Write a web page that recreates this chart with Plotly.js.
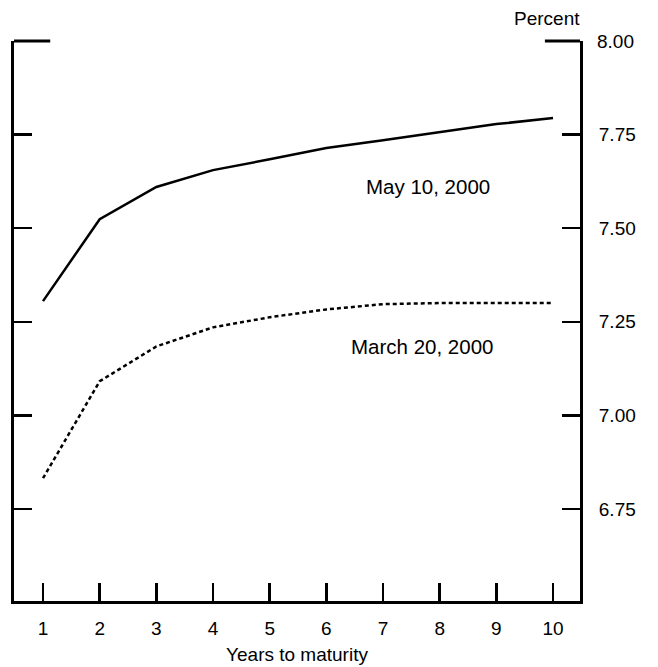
<!DOCTYPE html>
<html>
<head>
<meta charset="utf-8">
<script src="https://cdn.plot.ly/plotly-3.0.1.min.js"></script>
<style>html,body{margin:0;padding:0;background:#fff;}#chart{width:658px;height:667px;}</style>
</head>
<body>
<div id="chart"></div>
<script>
const years = [1, 2, 3, 4, 5, 6, 7, 8, 9, 10];
const may10 = [7.305, 7.524, 7.610, 7.655, 7.684, 7.714, 7.735, 7.757, 7.778, 7.794];
const mar20 = [6.832, 7.091, 7.184, 7.235, 7.262, 7.283, 7.297, 7.300, 7.300, 7.300];
const yTicks = [6.75, 7.00, 7.25, 7.50, 7.75, 8.00];
const yTickText = ["6.75", "7.00", "7.25", "7.50", "7.75", "8.00"];
const seriesNames = ["May 10, 2000", "March 20, 2000"];

const FONT = "Liberation Sans, Arial, Helvetica, sans-serif";
const yRange = [6.504, 8.0];

const traces = [
  {x: years, y: may10, mode: "lines", name: seriesNames[0],
   line: {color: "#000", width: 2.5}, hoverinfo: "skip"},
  {x: years, y: mar20, mode: "lines", name: seriesNames[1],
   line: {color: "#000", width: 2.5, dash: "4px,3px"}, hoverinfo: "skip"},
  {x: [years[0]], y: [yRange[0]], yaxis: "y2", mode: "markers",
   marker: {opacity: 0}, showlegend: false, hoverinfo: "skip"}
];

const layout = {
  width: 658, height: 667,
  margin: {l: 14, r: 78, t: 41, b: 66},
  paper_bgcolor: "#fff", plot_bgcolor: "#fff",
  showlegend: false,
  font: {family: FONT, size: 19, color: "#000"},
  xaxis: {
    range: [0.488, 10.476], tickvals: years, ticktext: years.map(String),
    ticks: "inside", ticklen: 18, tickwidth: 2.5, tickcolor: "#000",
    showline: true, linewidth: 3, linecolor: "#000", showgrid: false, zeroline: false,
    ticklabelstandoff: 8,
    tickfont: {family: FONT, size: 19},
    title: {text: "Years to maturity", font: {family: FONT, size: 19}, standoff: 10}
  },
  yaxis: {
    range: yRange, tickvals: yTicks.slice(0, 5), showticklabels: false,
    ticks: "inside", ticklen: 18, tickwidth: 2.5, tickcolor: "#000",
    showline: true, linewidth: 3, linecolor: "#000", showgrid: false, zeroline: false
  },
  yaxis2: {
    overlaying: "y", side: "right", range: yRange,
    tickvals: yTicks.slice(0, 5), ticktext: yTickText.slice(0, 5),
    ticks: "inside", ticklen: 18, tickwidth: 2.5, tickcolor: "#000",
    showline: true, linewidth: 3, linecolor: "#000", showgrid: false, zeroline: false,
    ticklabelstandoff: 12,
    tickfont: {family: FONT, size: 19}
  },
  shapes: [
    {type: "line", xref: "paper", yref: "paper", x0: 0, x1: 0.064, y0: 1, y1: 1,
     line: {color: "#000", width: 3}},
    {type: "line", xref: "paper", yref: "paper", x0: 0.938, x1: 1, y0: 1, y1: 1,
     line: {color: "#000", width: 3}}
  ],
  annotations: [
    {x: 7.79, y: 7.61, xref: "x", yref: "y", text: seriesNames[0], showarrow: false,
     font: {family: FONT, size: 20.5}},
    {x: 7.69, y: 7.183, xref: "x", yref: "y", text: seriesNames[1], showarrow: false,
     font: {family: FONT, size: 20.5}},
    {x: 1, y: 1, xref: "paper", yref: "paper", text: "8.00", showarrow: false,
     xanchor: "left", yanchor: "middle", xshift: 15, font: {family: FONT, size: 19}},
    {x: 1, y: 1.041, xref: "paper", yref: "paper", text: "Percent", showarrow: false,
     xanchor: "right", yanchor: "middle", xshift: 2, font: {family: FONT, size: 19}}
  ]
};

Plotly.newPlot("chart", traces, layout, {displayModeBar: false, staticPlot: true});
</script>
</body>
</html>
